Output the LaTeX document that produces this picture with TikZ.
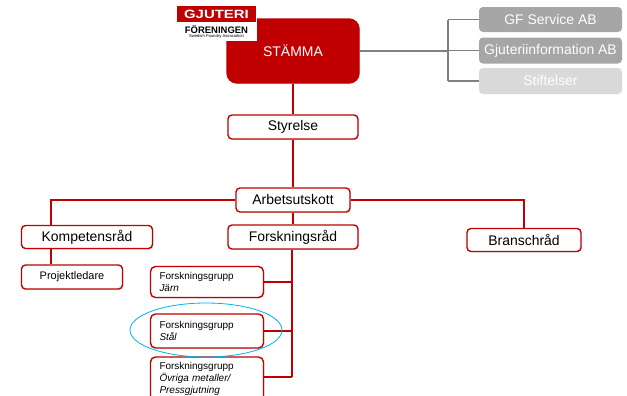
\documentclass[tikz,border=0pt]{standalone}
\usepackage{fontspec}
\setmainfont{Liberation Sans}
\usetikzlibrary{shadows}
\definecolor{gfred}{HTML}{C00000}
\definecolor{gfgray}{HTML}{A6A6A6}
\definecolor{gflight}{HTML}{D9D9D9}
\definecolor{gfline}{HTML}{808080}
\definecolor{gfcyan}{HTML}{00B0F0}
\begin{document}
\begin{tikzpicture}[x=1bp, y=-1bp,
	box/.style={draw=gfred, line width=1.4bp, fill=white, rounded corners=4bp, inner sep=0pt,
		font=\fontsize{14}{16}\selectfont, drop shadow={opacity=0.2, shadow xshift=1bp, shadow yshift=-1bp}},
	smallbox/.style={box, rounded corners=5bp, font=\fontsize{10}{12}\selectfont, align=left, text width=95bp, inner xsep=9bp, minimum width=113bp},
	graybox/.style={fill=gfgray, text=white, rounded corners=4bp, minimum width=143bp, inner sep=0pt,
		font=\fontsize{14}{16}\selectfont},
	link/.style={draw=gfred, line width=1.8bp},
	glink/.style={draw=gfline, line width=1.4bp}]
	\clip (0,0) rectangle (627,395); % Rand wie Vorlage

	% Kaesten
	\node[box, fill=gfred, text=white, minimum width=132bp, minimum height=64bp, rounded corners=10bp] (stamma) at (293,51) {STÄMMA};
	\node[box, minimum width=130bp, minimum height=24bp] (styrelse) at (293,127) {Styrelse};
	\node[box, minimum width=114bp, minimum height=24bp] (arbets) at (293,200) {Arbetsutskott};
	\node[box, minimum width=130bp, minimum height=24bp] (forsk) at (293,237) {Forskningsråd};
	\node[box, minimum width=131bp, minimum height=23bp] (kompet) at (87,237) {Kompetensråd};
	\node[box, minimum width=114bp, minimum height=23bp] (bransch) at (524,240) {Branschråd};
	\node[box, font=\fontsize{11}{13}\selectfont, minimum width=101bp, minimum height=24bp] (projekt) at (72,277) {Projektledare};
	\node[smallbox, minimum height=31bp] (jarn) at (207,282) {Forskningsgrupp\\\textit{Järn}};
	\node[smallbox, minimum height=34bp] (stal) at (207,331) {Forskningsgrupp\\\textit{Stål}};
	\node[smallbox, minimum height=44bp] (ovriga) at (207,379) {Forskningsgrupp\\\textit{Övriga metaller/}\\\textit{Pressgjutning}};

	\node[graybox, minimum height=25bp] (gfs) at (550.5,19.5) {GF Service AB};
	\node[graybox, minimum height=26bp] (gjut) at (550.5,50.5) {Gjuteriinformation AB};
	\node[graybox, fill=gflight, minimum height=26bp] (stift) at (550.5,81) {Stiftelser};

	% Linien
	\draw[link] (stamma.south) -- (styrelse.north);
	\draw[link] (styrelse.south) -- (arbets.north);
	\draw[link] (arbets.south) -- (forsk.north);
	\coordinate (kbus) at (51,0);
	\draw[link] (arbets.west) -| (kbus |- kompet.north);
	\draw[link] (kbus |- kompet.south) -- (kbus |- projekt.north);
	\draw[link] (arbets.east) -| (bransch.north);
	\coordinate (fbus) at (292,377);
	\draw[link] (fbus |- forsk.south) -- (fbus);
	\draw[link] (jarn.east) -- (fbus |- jarn.east);
	\draw[link] (stal.east) -- (fbus |- stal.east);
	\draw[link] (ovriga.east |- fbus) -- (fbus);

	\coordinate (gbus) at (448,51);
	\draw[glink] (stamma.east) -- (gbus |- stamma.east);
	\draw[glink] (gbus |- gfs.west) -- (gbus |- stift.west);
	\foreach \n in {gfs,gjut,stift}
		\draw[glink] (gbus |- \n.west) -- (\n.west);

	\draw[gfcyan, line width=0.8bp] (206,330) ellipse [x radius=76, y radius=27];

	% Logo
	\fill[white] (176,5) rectangle (257,41);
	\fill[gfred] (177,6) rectangle (256,22);
	\node[text=white, inner sep=0pt, font=\bfseries\fontsize{12}{12}\selectfont] (logotop) at (216.5,14.5) {\scalebox{1.25}[1]{GJUTERI}};
	\node[inner sep=0pt, font=\bfseries\fontsize{9.5}{9.5}\selectfont] (logomid) at (216.5,29) {FÖRENINGEN};
	\node[inner sep=0pt, font=\fontsize{4.2}{4.2}\selectfont] (logobot) at (216.5,36.5) {Swedish Foundry Association};

	%\draw[help lines, step=10] (0,0) grid (627,395);
\end{tikzpicture}
\end{document}
